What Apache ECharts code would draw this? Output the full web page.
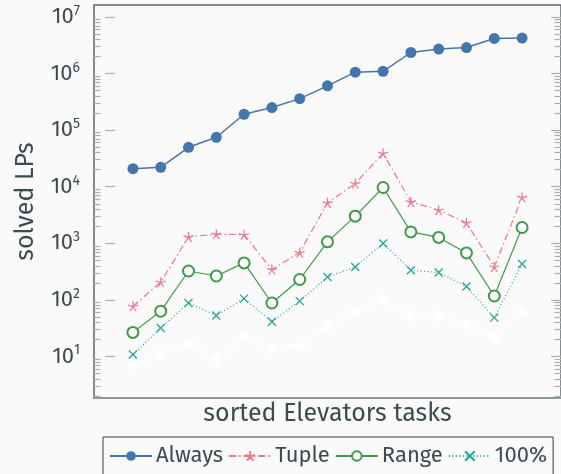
<!DOCTYPE html>
<html>
<head>
<meta charset="utf-8">
<script src="https://cdn.jsdelivr.net/npm/echarts@6/dist/echarts.min.js"></script>
<style>
html,body{margin:0;padding:0;background:#fafafa;}
#chart{width:561px;height:474px;}
</style>
</head>
<body>
<div id="chart"></div>
<script>
// ---- data ----
const taskIndex = [1,2,3,4,5,6,7,8,9,10,11,12,13,14,15];
const seriesNames = ['Always', 'Tuple', 'Range', '100%'];
const always = [20800, 22000, 49800, 74800, 191000, 251000, 361000, 607000, 1060000, 1100000, 2360000, 2710000, 2890000, 4180000, 4250000];
const tuple = [77, 205, 1300, 1450, 1420, 344, 687, 5200, 11400, 39000, 5400, 3850, 2300, 382, 6500];
const range = [26.6, 63, 324, 264, 450, 88, 229, 1060, 3020, 9700, 1590, 1270, 676, 117, 1900];
const full = [10.8, 31.7, 88, 53, 105, 41, 95, 254, 382, 990, 334, 304, 172, 48.5, 431];
const hidden = [6.9, 10.8, 16.8, 8.85, 22.6, 14.0, 15.2, 36.5, 62.7, 102, 51.8, 51, 36.9, 21.1, 62.7];
const majorTicks = [10, 100, 1000, 10000, 100000, 1000000, 10000000];
const yMin = 1.84, yMax = 1.632e7;

const minorTicks = [];
for (let e = 0; e <= 7; e++) {
  for (let m = 2; m <= 9; m++) {
    const v = m * Math.pow(10, e);
    if (v > yMin && v < yMax) minorTicks.push(v);
  }
}
const pairs = arr => arr.map((v, i) => [taskIndex[i], v]);

const textColor = '#3c4b50';
const font = '"Fira Sans", "Open Sans", "Noto Sans", sans-serif';
const tickColor = '#a8b0b0';

const starPath = 'path://M0,0L0,-1M0,0L-0.951,-0.309M0,0L-0.588,0.809M0,0L0.588,0.809M0,0L0.951,-0.309';
const xPath = 'path://M-1,-1L1,1M-1,1L1,-1';

function yAxisDef(position, ticks, len, withLabels, name) {
  return {
    type: 'log', logBase: 10, min: yMin, max: yMax, position: position, offset: 0,
    name: name || '', nameLocation: 'middle', nameGap: 55, nameRotate: 90,
    nameTextStyle: { fontSize: 25, color: textColor, fontFamily: font },
    axisLine: { show: false },
    axisTick: { show: true, inside: true, length: len, customValues: ticks, lineStyle: { color: tickColor, width: 1.2 } },
    axisLabel: withLabels ? {
      show: true, customValues: majorTicks, margin: 14,
      formatter: function (v) {
        const e = Math.round(Math.log10(v));
        return '{b|10}{s|' + e + '}';
      },
      rich: {
        b: { fontSize: 22, color: textColor, fontFamily: font },
        s: { fontSize: 14, color: textColor, fontFamily: font, padding: [0, 0, 12, 0] }
      }
    } : { show: false },
    splitLine: { show: false },
    minorTick: { show: false }
  };
}

const chart = echarts.init(document.getElementById('chart'), null, { renderer: 'canvas' });
chart.setOption({
  backgroundColor: '#fafafa',
  animation: false,
  grid: { left: 94, top: 5, width: 470, height: 393, show: true, borderColor: '#5d6a6a', borderWidth: 1.5, backgroundColor: 'transparent' },
  xAxis: {
    type: 'value', min: -0.4, max: 16.4,
    name: 'sorted Elevators tasks', nameLocation: 'middle', nameGap: 4,
    nameTextStyle: { fontSize: 25, color: textColor, fontFamily: font, verticalAlign: 'top' },
    axisLine: { show: true, lineStyle: { color: '#8d9999', width: 2 } },
    axisTick: { show: false }, axisLabel: { show: false }, splitLine: { show: false }
  },
  yAxis: [
    yAxisDef('left', majorTicks, 10, true, 'solved LPs'),
    yAxisDef('left', minorTicks, 6.5, false),
    yAxisDef('right', majorTicks, 10, false),
    yAxisDef('right', minorTicks, 6.5, false)
  ],
  legend: {
    data: seriesNames,
    left: 103, top: 437,
    borderColor: '#3a3a3a', borderWidth: 1, borderRadius: 0,
    padding: [8, 6, 12, 6],
    itemWidth: 42, itemHeight: 12, itemGap: 5,
    textStyle: { fontSize: 22, color: textColor, fontFamily: font, padding: [0, 0, 0, -1] }
  },
  series: [
    {
      name: '', type: 'line', data: pairs(hidden), yAxisIndex: 0,
      symbol: 'emptyDiamond', symbolSize: 8,
      lineStyle: { color: '#ffffff', width: 1 },
      itemStyle: { color: '#ffffff', borderColor: '#ffffff', borderWidth: 1 },
      z: 1
    },
    {
      name: seriesNames[3], type: 'line', data: pairs(full), yAxisIndex: 0,
      symbol: xPath, symbolSize: 8,
      lineStyle: { color: '#25a597', width: 1.2, type: [1, 2.5] },
      itemStyle: { color: '#25a597', borderColor: '#25a597', borderWidth: 1.3 },
      z: 2
    },
    {
      name: seriesNames[2], type: 'line', data: pairs(range), yAxisIndex: 0,
      symbol: 'emptyCircle', symbolSize: 11,
      lineStyle: { color: '#3e9a47', width: 1.2 },
      itemStyle: { color: '#3e9a47', borderColor: '#3e9a47', borderWidth: 1.2 },
      z: 3
    },
    {
      name: seriesNames[1], type: 'line', data: pairs(tuple), yAxisIndex: 0,
      symbol: starPath, symbolSize: 10,
      lineStyle: { color: '#f27585', width: 1.2, type: [7, 3, 1.5, 3] },
      itemStyle: { color: '#f27585', borderColor: '#f27585', borderWidth: 1.2 },
      z: 4
    },
    {
      name: seriesNames[0], type: 'line', data: pairs(always), yAxisIndex: 0,
      symbol: 'circle', symbolSize: 11,
      lineStyle: { color: '#4575ad', width: 1.5 },
      itemStyle: { color: '#4575ad' },
      z: 5
    }
  ]
});
</script>
</body>
</html>
